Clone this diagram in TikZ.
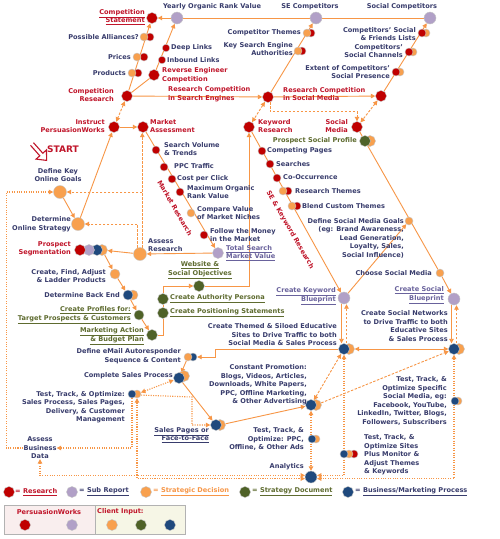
\documentclass[tikz,border=0pt]{standalone}
\usepackage{fontspec}
\setmainfont{DejaVu Sans}
\usetikzlibrary{arrows.meta,positioning}
\pgfdeclarelayer{paper}
\pgfdeclarelayer{bg}
\pgfsetlayers{paper,bg,main}

\definecolor{cRes}{HTML}{C00000}
\definecolor{cSub}{HTML}{B1A0C7}
\definecolor{cDec}{HTML}{F8A04E}
\definecolor{cDoc}{HTML}{4F6228}
\definecolor{cProc}{HTML}{1F497D}
\definecolor{cLine}{HTML}{F79646}
\definecolor{cTxt}{HTML}{383C6C}
\definecolor{cRTxt}{HTML}{C0152A}
\definecolor{cOTxt}{HTML}{5E6B2F}
\definecolor{cSTxt}{HTML}{69629C}
\definecolor{cBoxA}{HTML}{F9EEEE}
\definecolor{cBoxB}{HTML}{F6F6E6}

\newcommand\fnt{\fontsize{6.6}{8.5}\selectfont\bfseries}
\newcommand\undl[1]{\underline{#1}}

\tikzset{
  ball/.style={circle,draw=gray!45,line width=.4pt,inner sep=0pt,minimum size=#1},
  ball/.default=11pt,
  res/.style={ball=#1,fill=cRes}, res/.default=11pt,
  sub/.style={ball=#1,fill=cSub}, sub/.default=11pt,
  dec/.style={ball=#1,fill=cDec}, dec/.default=11pt,
  doc/.style={ball=#1,fill=cDoc}, doc/.default=11pt,
  proc/.style={ball=#1,fill=cProc}, proc/.default=11pt,
  txt/.style={font=\fnt,text=cTxt,inner sep=0pt,align=right},
  rtxt/.style={txt,text=cRTxt},
  otxt/.style={txt,text=cOTxt},
  stxt/.style={txt,text=cSTxt},
  dtxt/.style={txt,text=cLine},
  conn/.style={draw=cLine,line width=.9pt},
  dsh/.style={conn,dash pattern=on 2.5pt off 1.5pt},
  dotl/.style={conn,line width=1.1pt,dash pattern=on 1.1pt off 1.3pt},
}

\begin{document}
\begin{tikzpicture}[x=1pt,y=-1pt,>={Triangle[length=4.5pt,width=4.5pt]}]
\begin{pgfonlayer}{paper}
\fill[white] (0,0) rectangle (500,539);
\end{pgfonlayer}
\useasboundingbox (0,0) rectangle (500,539);

% competition research
\node[res] (cstat) at (152,18) {};
\node[sub=12pt] (yearly) at (177,18) {};
\node[sub=12pt] (secomp) at (316,18) {};
\node[sub=12pt] (socomp) at (430,18) {};
\node[txt] (yearly-t) at (212,7) {Yearly Organic Rank Value};
\node[txt] (secomp-t) at (310,7) {SE Competitors};
\node[txt] (socomp-t) at (402,7) {Social Competitors};
\node[rtxt,anchor=east] (cstat-t) at (145,17) {\undl{Competition}\\\undl{Statement}};

\node[res=8pt] (allies-b) at (150,37) {};
\node[dec=8pt] (allies) at (144,37) {};
\node[txt,anchor=east] (allies-t) at (139,37) {Possible Alliances?};
\node[res=8pt] (prices-b) at (144,57) {};
\node[dec=8pt] (prices) at (137,57) {};
\node[txt,anchor=east] (prices-t) at (131,57) {Prices};
\node[res=8pt] (products-b) at (138,73) {};
\node[dec=8pt] (products) at (132,73) {};
\node[txt,anchor=east] (products-t) at (126,73) {Products};
\node[res] (comres) at (127,96) {};
\node[rtxt,anchor=east] (comres-t) at (114,95) {Competition\\Research};

\node[res=7.5pt] (deep) at (166,48) {};
\node[txt,anchor=west] (deep-t) at (171,48) {Deep Links};
\node[res=7.5pt] (inbound) at (162,60) {};
\node[txt,anchor=west] (inbound-t) at (167,60) {Inbound Links};
\node[res] (reveng) at (154,75) {};
\node[rtxt,anchor=west,align=left] (reveng-t) at (162,75) {Reverse Engineer\\Competition};

\node[res] (resse) at (268,97) {};
\node[rtxt,anchor=west,align=left] (resse-t) at (168,94) {Research Competition\\in Search Engines};
\node[res=8pt] (themes-b) at (311,33) {};
\node[dec=8pt] (themes) at (307,33) {};
\node[txt,anchor=east] (themes-t) at (301,33) {Competitor Themes};
\node[res=8pt] (keyauth-b) at (302,51) {};
\node[dec=8pt] (keyauth) at (298,51) {};
\node[txt,anchor=east] (keyauth-t) at (293,49) {Key Search Engine\\Authorities};

\node[res] (resso) at (381,96) {};
\node[rtxt,anchor=west,align=left] (resso-t) at (283,94) {Research Competition\\in Social Media};
\node[dec=8pt] (friends-b) at (426,33) {};
\node[res=8pt] (friends) at (422,33) {};
\node[txt,anchor=east] (friends-t) at (416,34) {Competitors' Social\\\& Friends Lists};
\node[dec=8pt] (channels-b) at (413,52) {};
\node[res=8pt] (channels) at (409,52) {};
\node[txt,anchor=east] (channels-t) at (403,51) {Competitors'\\Social Channels};
\node[dec=8pt] (presence-b) at (400,72) {};
\node[res=8pt] (presence) at (396,72) {};
\node[txt,anchor=east] (presence-t) at (390,72) {Extent of Competitors'\\Social Presence};

% second row
\node[res] (instruct) at (114,127) {};
\node[rtxt,anchor=east] (instruct-t) at (105,126) {Instruct\\PersuasionWorks};
\node[res] (markass) at (143,127) {};
\node[rtxt,anchor=west,align=left] (markass-t) at (150,126) {Market\\Assessment};
\node[res] (kwres) at (249,127) {};
\node[rtxt,anchor=west,align=left] (kwres-t) at (258,126) {Keyword\\Research};
\node[res] (socmedia) at (357,127) {};
\node[rtxt,anchor=east] (socmedia-t) at (348,126) {Social\\Media};

% market research
\node[res=8pt] (svol) at (156,150) {};
\node[txt,anchor=west,align=left] (svol-t) at (164,149) {Search Volume\\\& Trends};
\node[res=8pt] (ppc) at (164,167) {};
\node[txt,anchor=west] (ppc-t) at (174,166) {PPC Traffic};
\node[res=8pt] (cpc) at (172,179) {};
\node[txt,anchor=west] (cpc-t) at (177,179) {Cost per Click};
\node[res=8pt] (maxorg) at (180,192) {};
\node[txt,anchor=west,align=left] (maxorg-t) at (187,192) {Maximum Organic\\Rank Value};
\node[dec=8pt] (niches) at (191,213) {};
\node[txt,anchor=west,align=left] (niches-t) at (197,213) {Compare Value\\of Market Niches};
\node[res=8pt] (money) at (204,235) {};
\node[txt,anchor=west,align=left] (money-t) at (210,235) {Follow the Money\\in the Market};
\node[sub] (totsearch) at (218,253) {};
\node[stxt,anchor=west,align=left] (totsearch-t) at (226,253) {\undl{Total Search}\\\undl{Market Value}};
\node[rtxt,rotate=-60] (mres-t) at (175,208) {Market Research};

% keyword research
\node[res=8pt] (comppages) at (262,151) {};
\node[txt,anchor=west] (comppages-t) at (267,151) {Competing Pages};
\node[res=8pt] (searches) at (270,164) {};
\node[txt,anchor=west] (searches-t) at (276,164) {Searches};
\node[res=8pt] (cooc) at (277,178) {};
\node[txt,anchor=west] (cooc-t) at (283,177) {Co-Occurrence};
\node[res=8pt] (resthemes-b) at (288,191) {};
\node[dec=8pt] (resthemes) at (283,191) {};
\node[txt,anchor=west] (resthemes-t) at (295,191) {Research Themes};
\node[res=8pt] (blend-b) at (297,206) {};
\node[dec=8pt] (blend) at (292,206) {};
\node[txt,anchor=west] (blend-t) at (302,206) {Blend Custom Themes};
\node[rtxt,rotate=-60] (kres-t) at (290,230) {SE \& Keyword Research};
\node[sub=12pt] (kwblue) at (344,298) {};
\node[stxt,anchor=east] (kwblue-t) at (336,296) {\undl{Create Keyword}\\\undl{Blueprint}};

% social media
\node[dec] (prosoc-b) at (370,141) {};
\node[doc] (prosoc) at (365,141) {};
\node[otxt,anchor=east] (prosoc-t) at (357,141) {Prospect Social Profile};
\node[dec=8pt] (smgoals) at (409,221) {};
\node[txt,anchor=east] (smgoals-t) at (404,238) {Define Social Media Goals\\(eg: Brand Awareness,\\Lead Generation,\\Loyalty, Sales,\\Social Influence)};
\node[dec=8pt] (choose) at (440,273) {};
\node[txt,anchor=east] (choose-t) at (432,273) {Choose Social Media};
\node[sub=12pt] (soblue) at (454,299) {};
\node[stxt,anchor=east] (soblue-t) at (444,295) {\undl{Create Social}\\\undl{Blueprint}};

% strategy
\node[txt,align=center] (goals-t) at (58,175) {Define Key\\Online Goals};
\node[dec=13pt] (goalsdot) at (60,192) {};
\node[rtxt,anchor=west,font=\fontsize{9}{10}\selectfont\bfseries] (start-t) at (47,149) {START};
\node[dec=13pt] (strategy) at (78,224) {};
\node[txt,anchor=east] (strategy-t) at (71,224) {Determine\\Online Strategy};
\node[dec] (prospect-o) at (102,250) {};
\node[proc] (prospect-n) at (97,250) {};
\node[sub] (prospect-s) at (89,250) {};
\node[res] (prospect) at (80,250) {};
\node[rtxt,anchor=east] (prospect-t) at (71,249) {Prospect\\Segmentation};
\node[dec=13pt] (assess) at (140,254) {};
\node[txt,anchor=west,align=left] (assess-t) at (148,245) {Assess\\Research};
\node[dec=10pt] (ladder) at (115,274) {};
\node[txt,anchor=east] (ladder-t) at (106,276) {Create, Find, Adjust\\\& Ladder Products};
\node[dec=10pt] (backend-b) at (133,295) {};
\node[proc=10pt] (backend) at (128,295) {};
\node[txt,anchor=east] (backend-t) at (120,295) {Determine Back End};
\node[doc=10pt] (profiles) at (139,315) {};
\node[otxt,anchor=east] (profiles-t) at (131,315) {\undl{Create Profiles for:}\\\undl{Target Prospects \& Customers}};
\node[doc] (budget) at (152,335) {};
\node[otxt,anchor=east] (budget-t) at (144,336) {\undl{Marketing Action}\\\undl{\& Budget Plan}};
\node[doc] (webobj) at (199,286) {};
\node[otxt,align=center] (webobj-t) at (200,270) {\undl{Website \&}\\\undl{Social Objectives}};
\node[doc] (persona) at (163,299) {};
\node[otxt,anchor=west] (persona-t) at (170,299) {\undl{Create Authority Persona}};
\node[doc] (position) at (163,313) {};
\node[otxt,anchor=west] (position-t) at (170,313) {\undl{Create Positioning Statements}};

% processes
\node[dec] (educ-b) at (349,349) {};
\node[proc] (educ) at (344,349) {};
\node[txt,anchor=east] (educ-t) at (337,335) {Create Themed \& Siloed Educative\\Sites to Drive Traffic to both\\Social Media \& Sales Process};
\node[dec] (socnet-b) at (459,349) {};
\node[proc] (socnet) at (454,349) {};
\node[txt,anchor=east] (socnet-t) at (448,326) {Create Social Networks\\to Drive Traffic to both\\Educative Sites\\\& Sales Process};
\node[proc=8pt] (email-b) at (193,357) {};
\node[dec=8pt] (email) at (188,357) {};
\node[txt,anchor=east] (email-t) at (181,356) {Define eMail Autoresponder\\Sequence \& Content};
\node[dec] (sales-b) at (184,376) {};
\node[proc] (sales) at (179,378) {};
\node[txt,anchor=east] (sales-t) at (173,376) {Complete Sales Process};
\node[dec=8pt] (tts-b) at (137,394) {};
\node[proc=8pt] (tts) at (132,394) {};
\node[txt,anchor=east] (tts-t) at (125,407) {Test, Track, \& Optimize:\\Sales Process, Sales Pages,\\Delivery, \& Customer\\Management};
\node[txt,align=center] (bizdata) at (40,448) {Assess\\Business\\Data};
\node[dec] (salespg-b) at (220,425) {};
\node[proc] (salespg) at (216,425) {};
\node[txt,anchor=east] (salespg-t) at (209,435) {\undl{Sales Pages or}\\\undl{Face-to-Face}};
\node[dec] (promo-b) at (316,405) {};
\node[proc] (promo) at (311,405) {};
\node[txt,anchor=east] (promo-t) at (307,385) {Constant Promotion:\\Blogs, Videos, Articles,\\Downloads, White Papers,\\PPC, Offline Marketing,\\\& Other Advertising};
\node[dec=8pt] (ttppc-b) at (316,439) {};
\node[proc=8pt] (ttppc) at (312,439) {};
\node[txt,anchor=east] (ttppc-t) at (304,439) {Test, Track, \&\\Optimize: PPC,\\Offline, \& Other Ads};
\node[proc=12pt] (analytics) at (311,477) {};
\node[txt,anchor=east] (analytics-t) at (304,467) {Analytics};
\node[res=8pt] (ttsites-r) at (354,454) {};
\node[dec=8pt] (ttsites-b) at (349,454) {};
\node[proc=8pt] (ttsites) at (344,454) {};
\node[txt,anchor=west,align=left] (ttsites-t) at (364,455) {Test, Track, \&\\Optimize Sites\\Plus Monitor \&\\Adjust Themes\\\& Keywords};
\node[dec=8pt] (ttsocial-b) at (458,401) {};
\node[proc=8pt] (ttsocial) at (455,401) {};
\node[txt,anchor=east] (ttsocial-t) at (447,401) {Test, Track, \&\\Optimize Specific\\Social Media, eg:\\Facebook, YouTube,\\LinkedIn, Twitter, Blogs,\\Followers, Subscribers};

% start arrow
\draw[cRTxt,line width=1.1pt,line join=miter] (33.5,142.7) -- (42.8,153.2) -- (46.5,149.9) -- (46.6,160.4) -- (36.1,159.1) -- (39.8,155.8) -- (30.5,145.3);

\begin{pgfonlayer}{bg}
\draw[conn,->] (comres) -- (cstat);
\draw[conn] (comres) -- (reveng);
\draw[conn,->] (reveng) -- (yearly);
\draw[conn] (socomp) -- (secomp) -- (yearly);
\draw[conn,->] (yearly) -- (cstat);
\draw[conn,->] (comres) -- (resse);
\draw[conn,->] (resse) -- (resso);
\draw[conn,->] (resse) -- (secomp);
\draw[conn,->] (resso) -- (socomp);
\draw[dsh,<->] (comres) -- (instruct);
\draw[dsh,<->] (resse) -- (kwres);
\draw[dsh,<->] (resso) -- (socmedia);
\draw[dsh,->] (resse.-70) -- ++(0,9) -| (socmedia.north);
\draw[conn,->] (instruct) -- (markass);
\draw[conn,->] (strategy) -- (instruct);
\draw[conn,->] (goalsdot) -- (strategy);
\draw[conn,->] (markass) -- (totsearch);
\draw[conn,->] (totsearch) -- (assess);
\draw[conn,->] (assess) -- (prospect-o);
\draw[conn,->] (prospect-o) -- (ladder);
\draw[conn,->] (ladder) -- (backend);
\draw[conn,->] (backend) -- (profiles);
\draw[conn,->] (profiles) -- (budget);
\draw[conn] (budget) -| (position);
\draw[conn] (position) -- (persona);
\draw[conn,->] (persona) |- (webobj);
\draw[conn,->] (webobj) -| (kwres);
\draw[conn,->] (kwres) -- (kwblue);
\draw[conn] (socmedia) -- (choose);
\draw[conn,->] (choose) -- (soblue);
\draw[conn,->] (kwblue) -- (smgoals);
\draw[dsh,->] (assess.70) -- (assess.70 |- markass.south);
\draw[dsh,->] (assess.70 |- goalsdot) -- (goalsdot);
\draw[dsh,->] (assess.110) |- (strategy);
\draw[conn,->] ([xshift=-2.5pt]kwblue.south) -- ([xshift=-2.5pt]educ.north);
\draw[dsh,->] ([xshift=2.5pt]educ.north) -- ([xshift=2.5pt]kwblue.south);
\draw[conn,->] ([xshift=-2.5pt]soblue.south) -- ([xshift=-2.5pt]socnet.north);
\draw[dsh,->] ([xshift=2.5pt]socnet.north) -- ([xshift=2.5pt]soblue.south);
\draw[conn,<->] (educ-b) -- (socnet);
\draw[conn,->] (educ) -- (215,349) |- (email-b);
\draw[conn,->] (email) -- (sales);
\draw[conn,->] (sales) -- (salespg);
\draw[conn,->] (salespg-b) -- (promo);
\draw[dsh,<->] (promo) -- (educ);
\draw[dsh,->] (promo-b) -- (socnet);
\draw[dotl,<->] (promo) -- (analytics);
\draw[dotl,<->] (educ.south) |- (analytics.15);
\draw[dotl,<->] (socnet.south) |- (analytics.-15);
\draw[dotl,<->] (bizdata.south) |- (analytics.165);
\draw[dotl,<->] (tts-b.south) |- (analytics.195);
\draw[dotl,->] (tts.south) |- (bizdata.east);
\draw[dotl,->] (bizdata.west) -- ++(-17,0) |- (goalsdot.west);
\draw[dotl,<->] (tts-b) -- (sales);
\draw[dotl,->] (tts-b.-15) -- (192,397) |- (salespg.west);
\end{pgfonlayer}

% legend
\node[res] (lg-res) at (9,492) {};
\node[rtxt,anchor=west] (lg-res-t) at (15,492) {= \undl{Research}};
\node[sub] (lg-sub) at (72,492) {};
\node[txt,anchor=west] (lg-sub-t) at (79,492) {= \undl{Sub Report}};
\node[dec] (lg-dec) at (146,492) {};
\node[dtxt,anchor=west] (lg-dec-t) at (153,492) {= \undl{Strategic Decision}};
\node[doc] (lg-doc) at (245,492) {};
\node[otxt,anchor=west] (lg-doc-t) at (252,492) {= \undl{Strategy Document}};
\node[proc] (lg-proc) at (348,492) {};
\node[txt,anchor=west] (lg-proc-t) at (355,492) {= \undl{Business/Marketing Process}};
\draw[gray!60,fill=cBoxA] (4,505) rectangle (95,534);
\draw[gray!60,fill=cBoxB] (95,505) rectangle (185,534);
\node[rtxt] (pw-t) at (49,512) {PersuasionWorks};
\node[rtxt,anchor=west] (ci-t) at (97,512) {Client Input:};
\node[res] (pw-res) at (25,525) {};
\node[sub] (pw-sub) at (72,525) {};
\node[dec] (ci-dec) at (112,525) {};
\node[doc] (ci-doc) at (141,525) {};
\node[proc] (ci-proc) at (170,525) {};
\end{tikzpicture}
\end{document}
